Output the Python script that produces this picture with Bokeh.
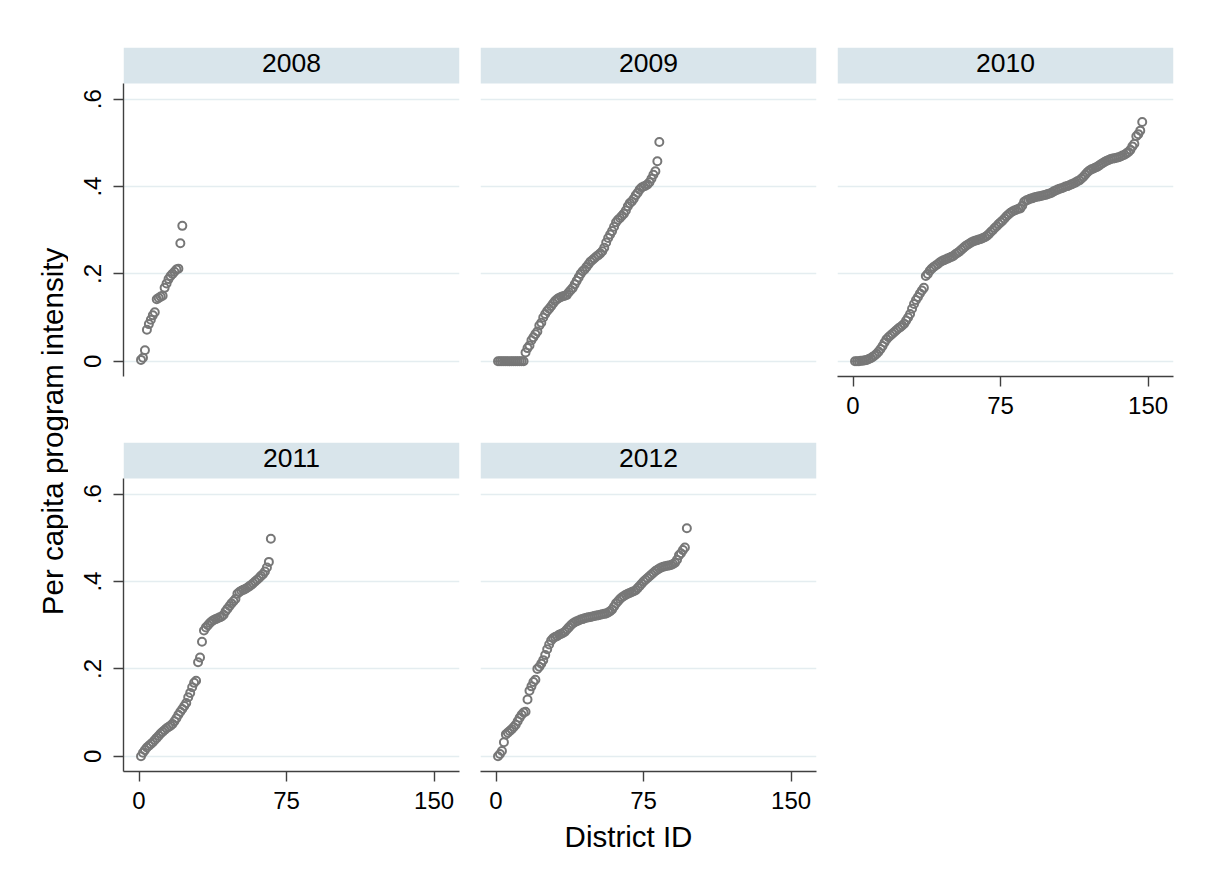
import math
from bokeh.plotting import figure
from bokeh.models import Range1d, FixedTicker, LinearAxis, Grid, CustomJSTickFormatter, ColumnDataSource
from bokeh.layouts import row, column
from bokeh.embed import file_html
from bokeh.resources import INLINE
from bokeh.core.properties import value

# ---------------- data ----------------
years = ["2008", "2009", "2010", "2011", "2012"]

v2008 = [0.003, 0.008, 0.025, 0.072, 0.085, 0.095, 0.105, 0.112, 0.142, 0.145, 0.148,
         0.15, 0.168, 0.178, 0.188, 0.195, 0.2, 0.205, 0.21, 0.212, 0.27, 0.31]

v2009 = [0, 0, 0, 0, 0, 0, 0, 0, 0, 0, 0, 0, 0, 0,
         0.02, 0.03, 0.036, 0.048, 0.055, 0.062, 0.068, 0.082, 0.088, 0.1,
         0.108, 0.115, 0.12, 0.126, 0.132, 0.138, 0.142, 0.145, 0.147, 0.149,
         0.15, 0.152, 0.158, 0.163, 0.168, 0.176, 0.184, 0.192, 0.2, 0.206,
         0.21, 0.216, 0.222, 0.228, 0.232, 0.236, 0.24, 0.243, 0.247, 0.252,
         0.26, 0.272, 0.282, 0.29, 0.298, 0.308, 0.318, 0.324, 0.328, 0.333,
         0.338, 0.345, 0.355, 0.362, 0.366, 0.372, 0.38, 0.386, 0.393, 0.398,
         0.4, 0.402, 0.405, 0.41, 0.418, 0.427, 0.435, 0.458, 0.502]

v2010 = [0.0, 0.0, 0.0, 0.001, 0.001, 0.002, 0.003,
         0.005, 0.007, 0.01, 0.013, 0.017, 0.022, 0.028, 0.035, 0.043, 0.05,
         0.055, 0.059, 0.063, 0.067, 0.071, 0.075, 0.078, 0.082, 0.086, 0.093,
         0.1, 0.108, 0.12, 0.131, 0.14, 0.147, 0.155, 0.162, 0.168, 0.195,
         0.2, 0.207, 0.212, 0.216, 0.219, 0.222, 0.226, 0.229, 0.231, 0.233,
         0.235, 0.237, 0.239, 0.241, 0.245, 0.248, 0.251, 0.255, 0.259, 0.263,
         0.266, 0.269, 0.272, 0.274, 0.276, 0.277, 0.279, 0.28, 0.282, 0.284,
         0.287, 0.291, 0.296, 0.3, 0.305, 0.309, 0.314, 0.318, 0.322, 0.327,
         0.332, 0.336, 0.34, 0.343, 0.345, 0.347, 0.349, 0.35, 0.356, 0.365,
         0.368, 0.37, 0.372, 0.373, 0.375, 0.376, 0.377, 0.378, 0.379, 0.38,
         0.381, 0.383, 0.384, 0.386, 0.389, 0.391, 0.393, 0.395, 0.396, 0.398,
         0.4, 0.401, 0.403, 0.405, 0.407, 0.409, 0.412, 0.414, 0.418, 0.422,
         0.427, 0.432, 0.436, 0.439, 0.441, 0.443, 0.445, 0.448, 0.451, 0.454,
         0.457, 0.459, 0.461, 0.463, 0.464, 0.465, 0.466, 0.467, 0.469, 0.471,
         0.473, 0.476, 0.479, 0.484, 0.492, 0.498, 0.515, 0.52, 0.528, 0.548]

v2011 = [0.0, 0.008, 0.014, 0.02, 0.024, 0.028, 0.032, 0.037, 0.042, 0.047,
         0.052, 0.056, 0.06, 0.064, 0.067, 0.07, 0.074, 0.08, 0.087, 0.095,
         0.102, 0.108, 0.115, 0.122, 0.135, 0.145, 0.158, 0.168, 0.173, 0.215,
         0.226, 0.262, 0.288, 0.295, 0.3, 0.305, 0.309, 0.312, 0.314, 0.316,
         0.318, 0.32, 0.324, 0.332, 0.338, 0.344, 0.35, 0.355, 0.36, 0.372,
         0.376, 0.379, 0.381, 0.383, 0.386, 0.389, 0.392, 0.396, 0.4, 0.404,
         0.408, 0.413, 0.417, 0.423, 0.432, 0.445, 0.498]

v2012 = [0.0, 0.005, 0.012, 0.032, 0.05, 0.054, 0.058, 0.062, 0.067, 0.072,
         0.08, 0.088, 0.095, 0.1, 0.102, 0.13, 0.15, 0.16, 0.17, 0.175,
         0.2, 0.205, 0.212, 0.22, 0.232, 0.245, 0.256, 0.265, 0.27, 0.273,
         0.275, 0.278, 0.28, 0.282, 0.285, 0.29, 0.295, 0.3, 0.304, 0.307,
         0.309, 0.311, 0.313, 0.314, 0.316, 0.317, 0.318, 0.319, 0.32, 0.321,
         0.322, 0.323, 0.324, 0.325, 0.326, 0.327, 0.329, 0.332, 0.336, 0.343,
         0.35, 0.355, 0.36, 0.364, 0.367, 0.37, 0.372, 0.374, 0.376, 0.378,
         0.38, 0.385, 0.39, 0.395, 0.4, 0.404, 0.408, 0.412, 0.416, 0.42,
         0.424, 0.427, 0.43, 0.432, 0.434, 0.435, 0.436, 0.437, 0.438, 0.44,
         0.443, 0.45, 0.46, 0.465, 0.472, 0.478, 0.522]

series = [v2008, v2009, v2010, v2011, v2012]

x_ticks = [0, 75, 150]
y_ticks = [0, 0.2, 0.4, 0.6]
y_tick_labels = ["0", ".2", ".4", ".6"]
x_title = "District ID"
y_title = "Per capita program intensity"

# ---------------- style / geometry ----------------
FONT = "Liberation Sans"
GRAY = "#777777"
AXIS = "#404040"
GRID = "#e4edf0"
STRIP = "#d9e5eb"

X0, X1 = -7.9, 162.9
Y0, Y1 = -0.035, 0.636
STRIP_PX, PLOT_PX = 36, 293
FRAME_H = STRIP_PX + PLOT_PX
Y_END = Y1 + (Y1 - Y0) * STRIP_PX / PLOT_PX
FRAME_W = 336

col_borders = [(55, 10), (11, 10), (11, 20)]
row_borders = [(47, 55), (11, 50)]

y_fmt = CustomJSTickFormatter(args=dict(tvals=y_ticks, tlabels=y_tick_labels), code="""
const i = tvals.findIndex(t => Math.abs(t - tick) < 1e-9);
return i >= 0 ? tlabels[i] : String(tick);
""")


def strip_grids(p):
    p.center = [r for r in p.center if not isinstance(r, Grid)]


def panel(idx, r, c, show_x, show_y):
    bl, br = col_borders[c]
    bt, bb = row_borders[r]
    p = figure(width=bl + FRAME_W + br, height=bt + FRAME_H + bb,
               x_range=Range1d(X0, X1), y_range=Range1d(Y0, Y_END),
               min_border_left=bl, min_border_right=br,
               min_border_top=bt, min_border_bottom=bb,
               x_axis_location=None, y_axis_location=None,
               toolbar_location=None, output_backend="svg",
               outline_line_color=None, background_fill_color="white",
               border_fill_color="white")
    strip_grids(p)
    p.add_layout(Grid(dimension=1, ticker=FixedTicker(ticks=y_ticks),
                      grid_line_color=GRID, grid_line_width=1.6))
    # strip
    p.quad(left=[X0], right=[X1], bottom=[Y1], top=[Y_END],
           fill_color=STRIP, line_color=None)
    p.text(x=[(X0 + X1) / 2], y=[(Y1 + Y_END) / 2], text=[years[idx]],
           text_align="center", text_baseline="middle", y_offset=-3,
           text_font=value(FONT), text_font_size="26.5px", text_color="black")
    vals = series[idx]
    src = ColumnDataSource(dict(x=list(range(1, len(vals) + 1)), y=vals))
    p.scatter("x", "y", source=src, marker="circle", size=8,
              fill_alpha=0, line_color=GRAY, line_width=2)
    if show_y:
        ax = LinearAxis(ticker=FixedTicker(ticks=y_ticks), formatter=y_fmt,
                        bounds=(Y0, Y1))
        ax.axis_line_color = AXIS
        ax.axis_line_width = 1.4
        ax.major_tick_line_color = AXIS
        ax.major_tick_line_width = 1.4
        ax.major_tick_out = 10
        ax.major_tick_in = 0
        ax.minor_tick_line_color = None
        ax.major_label_orientation = "vertical"
        ax.major_label_standoff = 12
        ax.major_label_text_font = FONT
        ax.major_label_text_font_size = "24px"
        ax.major_label_text_color = "black"
        p.add_layout(ax, "left")
    if show_x:
        ax = LinearAxis(ticker=FixedTicker(ticks=x_ticks))
        ax.axis_line_color = AXIS
        ax.axis_line_width = 1.4
        ax.major_tick_line_color = AXIS
        ax.major_tick_line_width = 1.4
        ax.major_tick_out = 10
        ax.major_tick_in = 0
        ax.minor_tick_line_color = None
        ax.major_label_standoff = 10
        ax.major_label_text_font = FONT
        ax.major_label_text_font_size = "24px"
        ax.major_label_text_color = "black"
        p.add_layout(ax, "below")
    return p


f2008 = panel(0, 0, 0, show_x=False, show_y=True)
f2009 = panel(1, 0, 1, show_x=False, show_y=False)
f2010 = panel(2, 0, 2, show_x=True, show_y=False)
f2011 = panel(3, 1, 0, show_x=True, show_y=True)
f2012 = panel(4, 1, 1, show_x=True, show_y=False)

grid_w = sum(bl + FRAME_W + br for bl, br in col_borders)
grid_h = sum(bt + FRAME_H + bb for bt, bb in row_borders)
YT_W = 68
XT_H = 50


def blank(w, h):
    b = figure(width=w, height=h, x_range=Range1d(0, w), y_range=Range1d(h, 0),
               min_border=0, x_axis_location=None, y_axis_location=None,
               toolbar_location=None, output_backend="svg",
               outline_line_color=None, background_fill_color="white",
               border_fill_color="white")
    strip_grids(b)
    return b


yfig = blank(YT_W, grid_h)
yfig.text(x=[52], y=[431], text=[y_title], angle=math.pi / 2,
          text_align="center", text_baseline="middle",
          text_font=value(FONT), text_font_size="29.5px", text_color="black")

xfig = blank(YT_W + grid_w, XT_H)
xfig.text(x=[628], y=[15], text=[x_title],
          text_align="center", text_baseline="middle",
          text_font=value(FONT), text_font_size="29.5px", text_color="black")

layout = column(row(yfig, column(row(f2008, f2009, f2010), row(f2011, f2012))), xfig)

open("out.html", "w").write(file_html(layout, INLINE))
